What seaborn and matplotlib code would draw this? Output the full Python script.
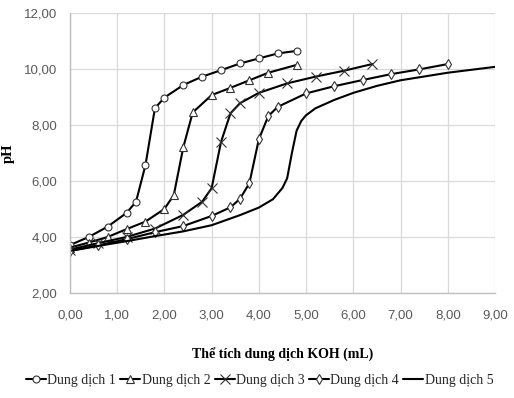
import matplotlib
matplotlib.use("Agg")
import matplotlib.pyplot as plt
import seaborn as sns
import pandas as pd

# Data
x1 = [0, 0.4, 0.8, 1.2, 1.4, 1.6, 1.8, 2.0, 2.4, 2.8, 3.2, 3.6, 4.0, 4.4, 4.8]
y1 = [3.71, 4.0, 4.37, 4.86, 5.26, 6.57, 8.6, 8.98, 9.43, 9.73, 9.96, 10.2, 10.38, 10.56, 10.65]

x2 = [0, 0.4, 0.8, 1.2, 1.6, 2.0, 2.2, 2.4, 2.6, 3.0, 3.4, 3.8, 4.2, 4.8]
y2 = [3.62, 3.8, 4.0, 4.28, 4.55, 5.0, 5.5, 7.2, 8.45, 9.07, 9.33, 9.6, 9.87, 10.15]

x3 = [0, 0.6, 1.2, 1.8, 2.4, 2.8, 3.0, 3.2, 3.4, 3.6, 4.0, 4.6, 5.2, 5.8, 6.4]
y3 = [3.55, 3.78, 4.0, 4.3, 4.79, 5.26, 5.74, 7.4, 8.42, 8.78, 9.15, 9.49, 9.73, 9.94, 10.18]

x4 = [0, 0.6, 1.2, 1.8, 2.4, 3.0, 3.4, 3.6, 3.8, 4.0, 4.2, 4.4, 5.0, 5.6, 6.2, 6.8, 7.4, 8.0]
y4 = [3.5, 3.7, 3.92, 4.17, 4.39, 4.75, 5.06, 5.36, 5.92, 7.49, 8.32, 8.65, 9.13, 9.39, 9.61, 9.82, 9.99, 10.18]

x5 = [0, 0.6, 1.2, 1.8, 2.4, 3.0, 3.6, 4.0, 4.3, 4.5, 4.6, 4.7, 4.8, 4.9, 5.0, 5.2, 5.6, 6.0, 6.5, 7.0, 8.0, 9.0]
y5 = [3.5, 3.68, 3.85, 4.03, 4.2, 4.42, 4.78, 5.05, 5.35, 5.75, 6.1, 7.0, 7.8, 8.15, 8.35, 8.6, 8.9, 9.15, 9.4, 9.6, 9.87, 10.08]

names = ["Dung dịch 1", "Dung dịch 2", "Dung dịch 3", "Dung dịch 4", "Dung dịch 5"]
xticks = [0, 1, 2, 3, 4, 5, 6, 7, 8, 9]
yticks = [2, 4, 6, 8, 10, 12]

sns.set_theme(style="white")
plt.rcParams['font.family'] = ['Liberation Sans Narrow', 'Liberation Sans', 'DejaVu Sans']

fig = plt.figure(figsize=(5.14, 3.98), dpi=100)
ax = fig.add_axes([0.136, 0.264, 0.827, 0.703])

series = [(x1, y1, "o", 5), (x2, y2, "^", 5.5), (x3, y3, "x", 6.5), (x4, y4, "d", 5.5), (x5, y5, None, 0)]
for (xs, ys, mk, ms), nm in zip(series, names):
    df = pd.DataFrame({"x": xs, "y": ys})
    kw = dict(marker=mk, markersize=ms, markerfacecolor="white",
              markeredgecolor="#333333", markeredgewidth=0.8) if mk else {}
    sns.lineplot(data=df, x="x", y="y", ax=ax, color="black", linewidth=1.5,
                 sort=False, label=nm, **kw)

ax.set_xlim(0, 9)
ax.set_ylim(2, 12)
ax.set_xticks(xticks)
ax.set_yticks(yticks)
ax.set_xticklabels([f"{v:.2f}".replace(".", ",") for v in xticks])
ax.set_yticklabels([f"{v:.2f}".replace(".", ",") for v in yticks])
ax.tick_params(axis="both", labelsize=9.5, colors="#595959", length=0)
ax.tick_params(axis="x", pad=12)
ax.tick_params(axis="y", pad=9)
ax.grid(True, color="#d9d9d9", linewidth=0.9)
for s in ["top", "right"]:
    ax.spines[s].set_visible(False)
for s in ["left", "bottom"]:
    ax.spines[s].set_color("#bfbfbf")
    ax.spines[s].set_linewidth(1.0)

serif = ['Liberation Serif', 'DejaVu Serif']
ax.set_xlabel("Thể tích dung dịch KOH (mL)", family=serif, fontweight="bold", fontsize=10, color="black")
ax.set_ylabel("pH", family=serif, fontweight="bold", fontsize=10.5, color="black")
ax.xaxis.set_label_coords(0.5, -0.195)
ax.yaxis.set_label_coords(-0.13, 0.5)

ax.legend_.remove()
h, l = ax.get_legend_handles_labels()
fig.legend(h, l, loc="center", bbox_to_anchor=(0.505, 0.045), ncol=5, frameon=False,
           prop={"family": serif, "size": 10}, handlelength=1.45, handletextpad=0.1,
           columnspacing=0.3, borderaxespad=0)

fig.savefig("out.png", dpi=100)
